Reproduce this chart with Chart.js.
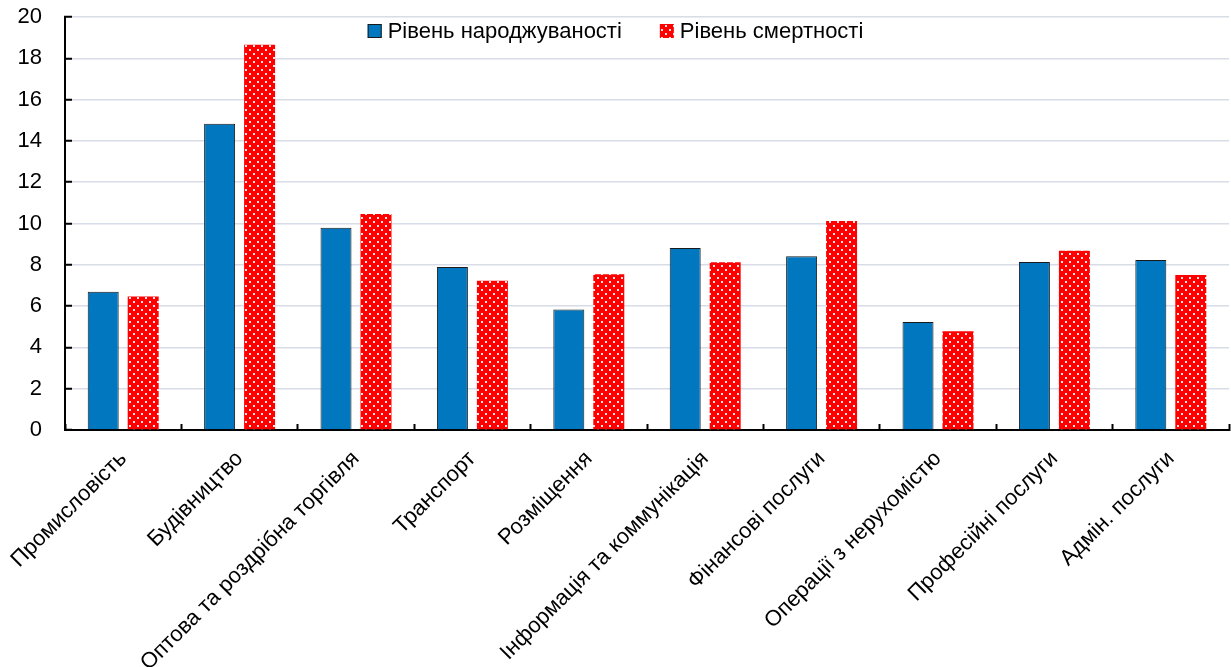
<!DOCTYPE html>
<html>
<head>
<meta charset="utf-8">
<script src="https://cdn.jsdelivr.net/npm/chart.js@4/dist/chart.umd.min.js"></script>
<style>
  body { margin: 0; background: #fff; }
  canvas { display: block; }
</style>
</head>
<body>
<canvas id="chart" width="1231" height="667"></canvas>
<script>
var categories = [
    "Промисловість", "Будівництво", "Оптова та роздрібна торгівля", "Транспорт",
    "Розміщення", "Інформація та коммунікація", "Фінансові послуги",
    "Операції з нерухомістю", "Професійні послуги", "Адмін. послуги"
];
var birthRate = [6.70, 14.83, 9.80, 7.89, 5.84, 8.81, 8.41, 5.23, 8.14, 8.23];
var deathRate = [6.47, 18.66, 10.46, 7.23, 7.54, 8.12, 10.12, 4.78, 8.68, 7.51];
var seriesNames = ["Рівень народжуваності", "Рівень смертності"];
var yTicks = [0, 2, 4, 6, 8, 10, 12, 14, 16, 18, 20];

// red with small white dots, like the excel fill
function dotPattern() {
    var c = document.createElement("canvas");
    c.width = 8;
    c.height = 8;
    var ctx = c.getContext("2d");
    ctx.fillStyle = "#ff0000";
    ctx.fillRect(0, 0, 8, 8);
    ctx.fillStyle = "rgba(255,255,255,0.9)";
    ctx.fillRect(1, 1, 2, 2);
    ctx.fillRect(5, 5, 2, 2);
    return ctx.createPattern(c, "repeat");
}

var font = "'Liberation Sans', Arial, sans-serif";

// legend sits inside the plot, in one row at the top
var topLegend = {
    id: "topLegend",
    afterDraw: function (chart) {
        var ctx = chart.ctx;
        var box = 14, gap = 6, itemGap = 38;
        ctx.save();
        ctx.font = "22px " + font;
        ctx.textBaseline = "middle";
        var widths = chart.data.datasets.map(function (ds) {
            return box + gap + ctx.measureText(ds.label).width;
        });
        var total = widths.reduce(function (a, b) { return a + b; }, 0) + itemGap * (widths.length - 1);
        var x = (chart.width - total) / 2;
        var y = chart.chartArea.top + 14;
        chart.data.datasets.forEach(function (ds, i) {
            ctx.fillStyle = ds.backgroundColor;
            ctx.fillRect(x, y - box / 2, box, box);
            if (ds.borderWidth) {
                ctx.strokeStyle = ds.borderColor;
                ctx.lineWidth = 1;
                ctx.strokeRect(x + 0.5, y - box / 2 + 0.5, box - 1, box - 1);
            }
            ctx.fillStyle = "#000";
            ctx.fillText(ds.label, x + box + gap, y + 1);
            x += widths[i] + itemGap;
        });
        ctx.restore();
    }
};

var ctx = document.getElementById("chart").getContext("2d");
var myChart = new Chart(ctx, {
    type: "bar",
    data: {
        labels: categories,
        datasets: [{
            label: seriesNames[0],
            data: birthRate,
            backgroundColor: "#0077be",
            borderColor: "#1a1a1a",
            borderWidth: 1,
            barPercentage: 0.775,
            categoryPercentage: 0.687
        }, {
            label: seriesNames[1],
            data: deathRate,
            backgroundColor: dotPattern(),
            borderWidth: 0,
            barPercentage: 0.775,
            categoryPercentage: 0.687
        }]
    },
    plugins: [topLegend],
    options: {
        responsive: false,
        animation: false,
        layout: { padding: 0 },
        plugins: {
            tooltip: { enabled: false },
            legend: { display: false }
        },
        scales: {
            x: {
                afterFit: function (scale) {
                    // fixed room for the slanted labels, like the original
                    scale.height = 237;
                    scale.paddingLeft = 0;
                    scale.paddingRight = 2;
                },
                grid: {
                    offset: true,
                    drawOnChartArea: false,
                    drawTicks: true,
                    tickLength: -6,
                    tickColor: "#000",
                    tickWidth: 2
                },
                border: { color: "#000", width: 2 },
                ticks: {
                    autoSkip: false,
                    minRotation: 45,
                    maxRotation: 45,
                    padding: 22,
                    color: "#000",
                    font: { family: font, size: 22 }
                }
            },
            y: {
                min: 0,
                max: 20,
                afterBuildTicks: function (scale) {
                    scale.ticks = yTicks.map(function (v) { return { value: v }; });
                },
                afterFit: function (scale) {
                    scale.width = 65;
                    scale.paddingTop = 17;
                    scale.paddingBottom = 0;
                },
                grid: {
                    color: "#d8dce6",
                    lineWidth: 1.5,
                    tickLength: -7,
                    tickColor: "#000",
                    tickWidth: 2
                },
                border: { color: "#000", width: 2 },
                ticks: {
                    padding: 30,
                    color: "#000",
                    font: { family: font, size: 22 }
                }
            }
        }
    }
});
</script>
</body>
</html>
